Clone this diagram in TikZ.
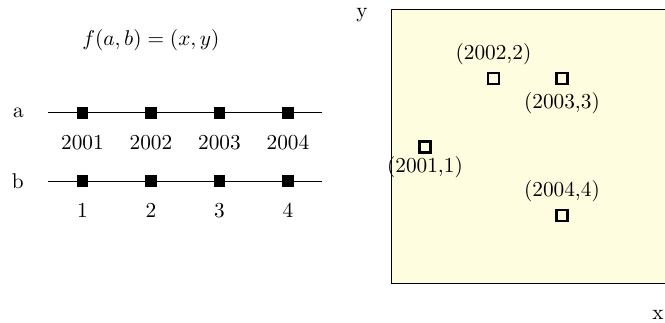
\documentclass[tikz,border=0pt]{standalone}
\usetikzlibrary{positioning}
\definecolor{plane}{HTML}{FFFDE0}

\begin{document}
\begin{tikzpicture}[
    x=1.13cm, y=1.13cm,
    tick/.style={rectangle, fill=black, minimum size=5.6pt, inner sep=0pt},
    point/.style={rectangle, draw, line width=1pt, fill=plane, minimum size=5.2pt, inner sep=0pt, label distance=0pt},
    value/.style={below=3.9pt of #1},
]

\useasboundingbox (-5.704,-0.555) rectangle (4.004,4.146);

% Mapping
\node (func) at (-3.5,3.56) {$f(a,b) = (x,y)$};

% Line a
\coordinate (astart) at (-5,2.5);
\coordinate (aend) at (-1,2.5);
\draw (astart) -- (aend);
\node[left=0.28cm of astart] (alabel) {a};
\node[tick] (a1) at (-4.5,2.5) {};
\node[tick] (a2) at (-3.5,2.5) {};
\node[tick] (a3) at (-2.5,2.5) {};
\node[tick] (a4) at (-1.5,2.5) {};
\node[value=a1] (ya1) {2001};
\node[value=a2] (ya2) {2002};
\node[value=a3] (ya3) {2003};
\node[value=a4] (ya4) {2004};

% Line b
\coordinate (bstart) at (-5,1.5);
\coordinate (bend) at (-1,1.5);
\draw (bstart) -- (bend);
\node[left=0.28cm of bstart] (blabel) {b};
\node[tick] (b1) at (-4.5,1.5) {};
\node[tick] (b2) at (-3.5,1.5) {};
\node[tick] (b3) at (-2.5,1.5) {};
\node[tick] (b4) at (-1.5,1.5) {};
\node[value=b1] (vb1) {1};
\node[value=b2] (vb2) {2};
\node[value=b3] (vb3) {3};
\node[value=b4] (vb4) {4};

% Plane
\node[draw, semithick, fill=plane, minimum size=4.52cm, inner sep=0pt, anchor=south west] (xy) at (0,0) {};
\node (ylabel) at (-0.42,3.93) {y};
\node (xlabel) at (3.9,-0.45) {x};

% Points
\node[point, label={[label distance=-2.3pt]below:(2001,1)}] (p1) at (0.5,2) {};
\node[point, label=above:{(2002,2)}] (p2) at (1.5,3) {};
\node[point, label=below:{(2003,3)}] (p3) at (2.5,3) {};
\node[point, label=above:{(2004,4)}] (p4) at (2.5,1) {};

\end{tikzpicture}
\end{document}
